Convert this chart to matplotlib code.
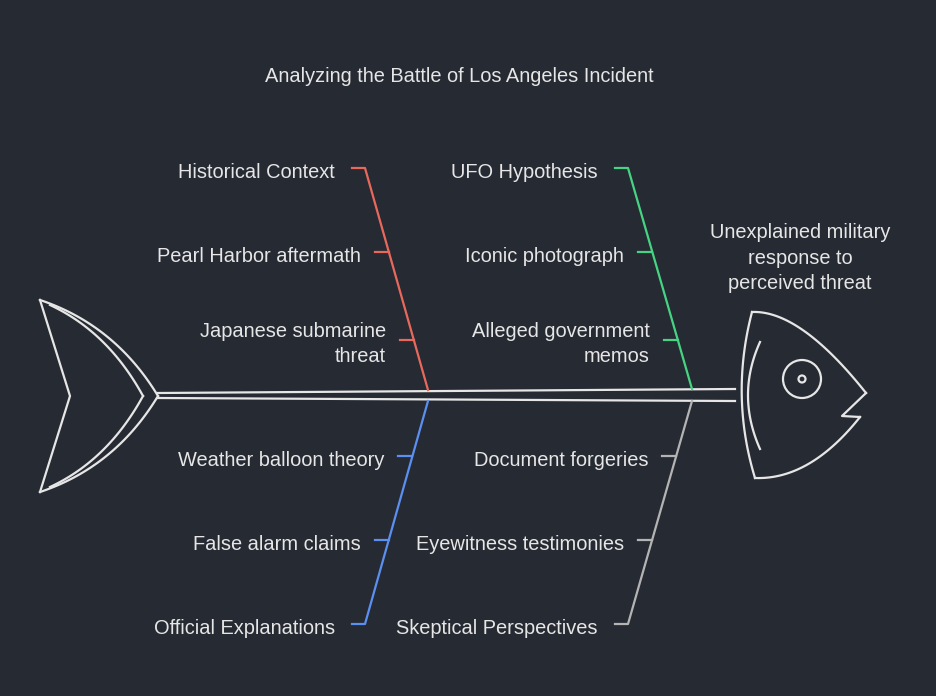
import numpy as np
import matplotlib.pyplot as plt
from matplotlib.patches import Circle

title = "Analyzing the Battle of Los Angeles Incident"
effect = "Unexplained military\nresponse to\nperceived threat"

categories = ["Historical Context", "UFO Hypothesis", "Official Explanations", "Skeptical Perspectives"]
causes = [
    ["Pearl Harbor aftermath", "Japanese submarine\nthreat"],
    ["Iconic photograph", "Alleged government\nmemos"],
    ["Weather balloon theory", "False alarm claims"],
    ["Document forgeries", "Eyewitness testimonies"],
]
colors = ["#e8695c", "#46d483", "#5b8ff0", "#b4b4b4"]

bg = "#262a33"
fg = "#e6e6e6"
plt.rcParams['font.family'] = ['Liberation Sans', 'DejaVu Sans']

fig = plt.figure(figsize=(9.36, 6.96), dpi=100, facecolor=bg)
ax = fig.add_axes([0, 0, 1, 1])
ax.set_facecolor(bg)
ax.set_xlim(0, 936)
ax.set_ylim(696, 0)
ax.axis('off')
lw = 1.6

# spine
ax.plot([158, 735], [393, 389], color=fg, lw=lw)
ax.plot([158, 735], [398, 401], color=fg, lw=lw)

# tail
t = np.linspace(0, 1, 60)
def bez(p0, p1, p2):
    p0, p1, p2 = map(np.array, (p0, p1, p2))
    pts = ((1 - t) ** 2)[:, None] * p0 + (2 * t * (1 - t))[:, None] * p1 + (t ** 2)[:, None] * p2
    return pts[:, 0], pts[:, 1]
for a, c in [((40, 300), (115, 325)), ((40, 492), (115, 467))]:
    x, y = bez(a, c, (158, 396)); ax.plot(x, y, color=fg, lw=lw)
ax.plot([40, 70, 40], [300, 396, 492], color=fg, lw=lw)
for a, c in [((50, 305), (108, 332)), ((50, 487), (108, 460))]:
    x, y = bez(a, c, (143, 396)); ax.plot(x, y, color=fg, lw=lw)

# head
x, y = bez((752, 312), (730, 396), (755, 478)); ax.plot(x, y, color=fg, lw=lw)
x, y = bez((752, 312), (800, 310), (866, 393)); ax.plot(x, y, color=fg, lw=lw)
ax.plot([866, 842, 860], [393, 416, 417], color=fg, lw=lw)
x, y = bez((860, 417), (810, 480), (755, 478)); ax.plot(x, y, color=fg, lw=lw)
ax.add_patch(Circle((802, 379), 19, fill=False, ec=fg, lw=lw))
ax.add_patch(Circle((802, 379), 3.5, fill=False, ec=fg, lw=lw))
x, y = bez((760, 342), (736, 395), (760, 449)); ax.plot(x, y, color=fg, lw=lw)

# bones
bones = [((428, 390), (365, 168)), ((692, 389), (628, 168)),
         ((428, 401), (365, 624)), ((692, 401), (628, 624))]
tick_y = [[252, 340], [252, 340], [456, 540], [456, 540]]
fs = 14.4
for k, ((x0, y0), (x1, y1)) in enumerate(bones):
    col = colors[k]
    ax.plot([x0, x1, x1 - 13], [y0, y1, y1], color=col, lw=lw)
    ax.text(x1 - 30, y1 + 5, categories[k], color=fg, fontsize=fs, ha='right', va='center')
    for lab, ty in zip(causes[k], tick_y[k]):
        bx = x0 + (ty - y0) / (y1 - y0) * (x1 - x0)
        ax.plot([bx - 14, bx], [ty, ty], color=col, lw=lw)
        ax.text(bx - 28, ty + 4, lab, color=fg, fontsize=fs, ha='right', va='center',
                multialignment='right', linespacing=1.45)

ax.text(459, 77, title, color=fg, fontsize=fs, ha='center', va='center')
ax.text(800, 258, effect, color=fg, fontsize=fs, ha='center', va='center', linespacing=1.45)

fig.savefig("out.png", dpi=100, facecolor=bg)
